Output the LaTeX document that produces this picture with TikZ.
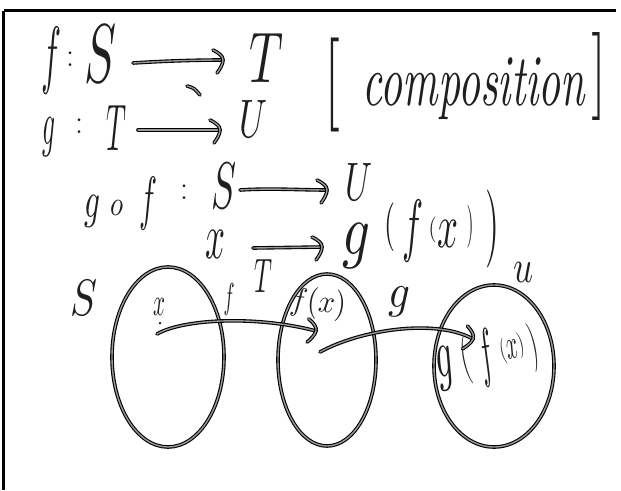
\documentclass[tikz,border=0pt]{standalone}
\usepackage{graphicx}
\usetikzlibrary{shapes.geometric}
\tikzset{
  pen/.style={draw=black, line width=1.1pt, double=black!40, double distance=1.4pt, line cap=round, line join=round},
  hw/.style={inner sep=0pt, outer sep=0pt, anchor=center, text=black!88},
  setshape/.style={pen, ellipse, inner sep=0pt},
  ahead/.pic={\draw[pen] (-10,-10) .. controls (-4,-7) and (0,-4) .. (0,0) .. controls (0,4) and (-3,9) .. (-6,13);},
  dotmark/.style={fill=black, circle, inner sep=0pt, minimum size=2.5pt},
}
\newcommand\hwb[3]{\resizebox*{#1pt}{#2pt}{$#3$}}
\newcommand\colonmark{\fontsize{34}{34}\selectfont :}
\begin{document}
\begin{tikzpicture}[x=1pt,y=-1pt]
\useasboundingbox (0,0) rectangle (621,490);
% frame
\draw[line width=2.6pt] (3.5,10.5) -- (616,10.5);
\draw[line width=3pt] (3.5,10.5) -- (3.5,490);

% line 1
\node[hw] (f1) at (52,61) {\hwb{20}{67}{f}};
\node[hw] (c1) at (70,59.5) {\colonmark};
\node[hw] (S1) at (101,53.5) {\hwb{32}{57}{S}};
\node[hw] (T1) at (267,57.5) {\hwb{34}{49}{T}};
\coordinate (a1s) at (133,63);
\coordinate (a1e) at (223,60);
\draw[pen] (a1s) .. controls (165,61) and (195,60) .. (a1e);
\pic at (a1e) {ahead};
\draw[pen] (187,86) .. controls (194,88) .. (200,95);
\node[hw] (lb) at (332,85) {\hwb{16}{94}{[}};
\node[hw] (comp) at (474,89) {\hwb{222}{62}{\textit{composition}}};
\node[hw] (rb) at (599,76) {\hwb{15}{88}{]}};

% line 2
\node[hw] (g2) at (49,137.5) {\hwb{13}{39}{g}};
\node[hw] (c2) at (79,126) {\colonmark};
\node[hw] (T2) at (116,127.5) {\hwb{20}{45}{T}};
\coordinate (a2s) at (138,130);
\coordinate (a2e) at (220,130);
\draw[pen] (a2s) -- (a2e);
\pic at (a2e) {ahead};
\node[hw] (U2) at (253.5,118.5) {\hwb{28}{37}{U}};

% line 3
\node[hw] (g3) at (92.5,211) {\hwb{16}{32}{g}};
\node[hw] (o3) at (116.5,207.5) {\hwb{13}{15}{o}};
\node[hw] (f3) at (149,203.5) {\hwb{18}{53}{f}};
\node[hw] (c3) at (184,192.5) {\colonmark};
\node[hw] (S3) at (224.5,185.5) {\hwb{25}{45}{S}};
\coordinate (a3s) at (240,190);
\coordinate (a3e) at (327,190);
\draw[pen] (a3s) .. controls (270,188) and (300,190) .. (a3e);
\pic at (a3e) {ahead};
\node[hw] (U3) at (358.5,181.5) {\hwb{27}{37}{U}};

% line 4
\node[hw] (x4) at (215,244) {\hwb{20}{28}{x}};
\coordinate (a4s) at (253,248);
\coordinate (a4e) at (322,247);
\draw[pen] (a4s) -- (a4e);
\pic at (a4e) {ahead};
\node[hw] (g4) at (356,245.5) {\hwb{28}{45}{g}};
\node[hw] (p1) at (390,227.5) {\hwb{11}{49}{(}};
\node[hw] (f4) at (412.5,231) {\hwb{21}{62}{f}};
\node[hw] (p2) at (432.5,230) {\hwb{8}{26}{(}};
\node[hw] (x4b) at (447.5,233.5) {\hwb{21}{27}{x}};
\node[hw] (p3) at (470,226.5) {\hwb{7}{43}{)}};
\node[hw] (p4) at (492.5,229) {\hwb{14}{78}{)}};

% sets
\node[setshape, minimum width=112pt, minimum height=180pt] (Sset) at (168,357) {};
\node[setshape, minimum width=98pt, minimum height=172pt] (Tset) at (327,360) {};
\node[setshape, minimum width=120pt, minimum height=162pt] (Uset) at (494,366) {};

\node[hw] (Slab) at (84.5,297.5) {\hwb{27}{35}{S}};
\node[hw] (Tlab) at (263,276) {\hwb{18}{33}{T}};
\node[hw] (ulab) at (523,272) {\hwb{20}{20}{u}};

\node[hw] (xin) at (159,306.5) {\hwb{12}{17}{x}};
\node[dotmark] (xdot) at (160,323) {};
\node[hw] (flab) at (229,299) {\hwb{11}{32}{f}};
\node[hw, rotate=-6] (fx) at (318,304) {\hwb{56}{32}{f(x)}};
\node[hw] (glab) at (399,302) {\hwb{22}{30}{g}};

% g(f(x)) inside U
\node[hw, rotate=12] (gi1) at (446,368) {\hwb{18}{44}{g}};
\node[hw, rotate=12] (gi2) at (466,361) {\hwb{8}{48}{(}};
\node[hw, rotate=12] (gi3) at (487,358) {\hwb{16}{58}{f}};
\node[hw, rotate=12] (gi4) at (503,352) {\hwb{6}{26}{(}};
\node[hw, rotate=12] (gi5) at (512,349) {\hwb{12}{18}{x}};
\node[hw, rotate=12] (gi6) at (521,346) {\hwb{6}{26}{)}};
\node[hw, rotate=12] (gi7) at (534,347) {\hwb{8}{50}{)}};

% mapping arrows
\coordinate (fs) at (157,334);
\coordinate (fe) at (316,331);
\draw[pen] (fs) .. controls (185,318) and (260,316) .. (fe);
\pic[rotate=-14] at (fe) {ahead};
\coordinate (gs) at (320,352);
\coordinate (ge) at (473,339);
\draw[pen] (gs) .. controls (360,330) and (435,318) .. (ge);
\pic[rotate=-22] at (ge) {ahead};
\end{tikzpicture}
\end{document}
